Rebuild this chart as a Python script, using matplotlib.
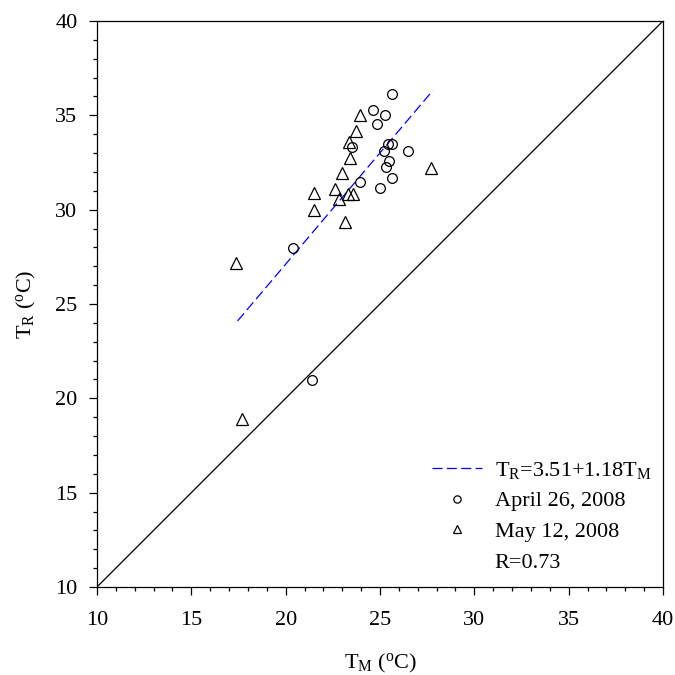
import matplotlib
matplotlib.use("Agg")
import matplotlib.pyplot as plt
import numpy as np
from matplotlib.ticker import MultipleLocator

plt.rcParams["font.family"] = ["Liberation Serif", "DejaVu Serif"]
plt.rcParams["mathtext.fontset"] = "custom"
plt.rcParams["mathtext.rm"] = "Liberation Serif"
plt.rcParams["mathtext.it"] = "Liberation Serif:italic"

# April 26, 2008 (circles)
apr_tm = [25.63, 24.63, 25.24, 24.82, 25.45, 25.64, 23.49, 25.21, 26.50,
          25.50, 25.33, 25.63, 23.94, 25.00, 20.40, 21.41]
apr_tr = [36.13, 35.28, 35.02, 34.52, 33.47, 33.47, 33.31, 33.09, 33.09,
          32.60, 32.25, 31.68, 31.48, 31.13, 27.95, 20.98]

# May 12, 2008 (triangles)
may_tm = [23.94, 23.71, 23.37, 23.41, 23.01, 27.73, 21.52, 22.63, 23.28,
          23.55, 22.82, 21.52, 23.14, 17.35, 17.68]
may_tr = [35.04, 34.15, 33.59, 32.74, 31.96, 32.19, 30.88, 31.10, 30.82,
          30.83, 30.55, 29.97, 29.37, 27.16, 18.91]

# regression T_R = a + b*T_M over the measured range
fit_a, fit_b = 3.51, 1.18
fit_x = [17.45, 27.8]

fig = plt.figure(figsize=(6.75, 6.75), dpi=100)
ax = fig.add_axes([0.1437, 0.1304, 0.8385, 0.8385])

ax.plot([10, 40], [10, 40], color="black", lw=0.9)
fx = np.array(fit_x)
ax.plot(fx, fit_a + fit_b * fx, color="blue", ls=(0, (8, 3.5)), lw=0.9,
        label=r"T$_\mathrm{R}$=3.51+1.18T$_\mathrm{M}$")
ax.plot(apr_tm, apr_tr, "o", ms=7, mfc="none", mec="black", mew=0.9,
        label="April 26, 2008")
ax.plot(may_tm, may_tr, "^", ms=8, mfc="none", mec="black", mew=0.9,
        label="May 12, 2008")
ax.plot([], [], " ", label="R=0.73")

ax.set_xlim(10, 40)
ax.set_ylim(10, 40)
ax.xaxis.set_major_locator(MultipleLocator(5))
ax.yaxis.set_major_locator(MultipleLocator(5))
ax.xaxis.set_minor_locator(MultipleLocator(1))
ax.yaxis.set_minor_locator(MultipleLocator(1))
ax.tick_params(which="major", direction="out", length=6, width=0.9,
               labelsize=16, top=False, right=False)
ax.tick_params(which="minor", direction="out", length=3, width=0.9,
               top=False, right=False)
ax.tick_params(axis="x", which="major", pad=11)
ax.tick_params(axis="y", which="major", pad=8)
for s in ax.spines.values():
    s.set_linewidth(0.9)

ax.set_xlabel(r"T$_\mathrm{M}$ ($^\mathrm{o}$C)", fontsize=16, labelpad=16)
ax.set_ylabel(r"T$_\mathrm{R}$ ($^\mathrm{o}$C)", fontsize=16, labelpad=12.5)

leg = ax.legend(loc="lower right", bbox_to_anchor=(0.995, 0.009),
                frameon=False, fontsize=16,
                markerscale=0.75, handlelength=2.25, handletextpad=0.55,
                labelspacing=0.46, borderaxespad=0.0)

fig.savefig("out.png", dpi=100)
